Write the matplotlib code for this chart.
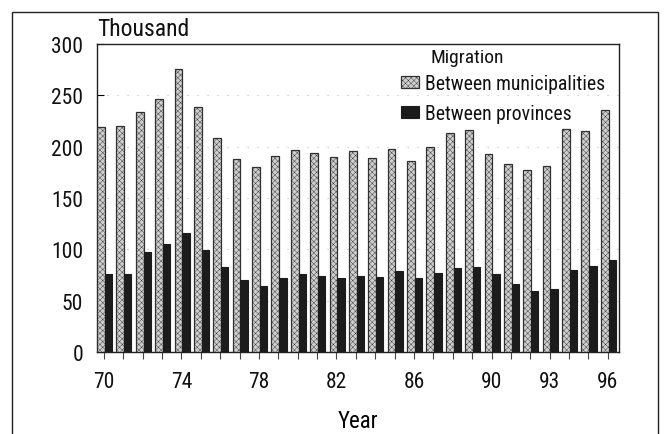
import matplotlib
matplotlib.use("Agg")
import matplotlib.pyplot as plt
from matplotlib.patches import Rectangle
import numpy as np

plt.rcParams['font.family'] = ['Roboto Condensed', 'Archivo Narrow', 'PT Sans Narrow',
                               'IBM Plex Sans Condensed', 'DejaVu Sans']
plt.rcParams['text.color'] = '#111111'
plt.rcParams['xtick.labelcolor'] = '#111111'
plt.rcParams['ytick.labelcolor'] = '#111111'
plt.rcParams['hatch.linewidth'] = 0.3

years = list(range(1970, 1997))
municipalities = [219, 220, 234, 246, 276, 239, 208, 188, 180, 191, 197, 194, 190, 196,
                  189, 198, 186, 200, 213, 216, 193, 183, 177, 181, 217, 215, 236]
provinces = [76, 76, 97, 105, 116, 99, 83, 70, 64, 72, 76, 74, 72, 74,
             73, 79, 72, 77, 82, 83, 76, 66, 59, 61, 80, 84, 90]
tick_years = [1970, 1974, 1978, 1982, 1986, 1990, 1993, 1996]
tick_labels = ['70', '74', '78', '82', '86', '90', '93', '96']
yticks = [0, 50, 100, 150, 200, 250, 300]

W, H = 666, 435
fig = plt.figure(figsize=(W / 100, H / 100), dpi=100)

# outer frame
fig.patches.append(Rectangle((12 / W, -0.05), (658 - 12) / W, 1.05 - 13 / H,
                             transform=fig.transFigure, fill=False,
                             edgecolor='#222222', linewidth=1.0))

ax = fig.add_axes([97 / W, 1 - 353 / H, (619 - 97) / W, (353 - 45) / H])
x = np.array(years, dtype=float)

ax.bar(x - 0.16, municipalities, width=0.40, facecolor='#cfcfcf',
       edgecolor='#303030', hatch='xxxxxx', linewidth=0.9,
       label='Between municipalities', zorder=3)
ax.bar(x + 0.23, provinces, width=0.38, facecolor='#1c1c1c',
       edgecolor='#1c1c1c', linewidth=0.8,
       label='Between provinces', zorder=3)

ax.set_xlim(1969.64, 1996.58)
ax.set_ylim(0, 300)
ax.set_xticks(years, minor=True)
ax.set_xticks(tick_years)
ax.set_xticklabels(tick_labels, fontsize=15.5)
ax.set_yticks(yticks)
ax.set_yticklabels([str(v) for v in yticks], fontsize=15.5)
ax.tick_params(axis='x', which='both', direction='out', length=5, width=0.8,
               color='#444444', pad=9)
ax.tick_params(axis='y', direction='in', length=5, width=0.8, pad=10)

for v in yticks[1:-1]:
    ax.axhline(v, color='#bbbbbb', linestyle=(0, (1, 8)), linewidth=0.8, zorder=1)

for s in ax.spines.values():
    s.set_linewidth(1.0)
    s.set_color('#222222')

ax.set_xlabel('Year', fontsize=16.5, labelpad=12)
fig.text(97 / W, 1 - 36 / H, 'Thousand', fontsize=17, ha='left', va='baseline')
fig.text(430 / W, 1 - 58 / H, 'Migration', fontsize=14, ha='left', va='center')

leg = ax.legend(loc='upper left', bbox_to_anchor=(401 / W, 1 - 75 / H),
                bbox_transform=fig.transFigure, frameon=False, fontsize=14.2,
                handlelength=0.9, handleheight=0.6, handletextpad=0.3,
                labelspacing=0.55, borderpad=0, borderaxespad=0)

fig.savefig('out.png', dpi=100)
